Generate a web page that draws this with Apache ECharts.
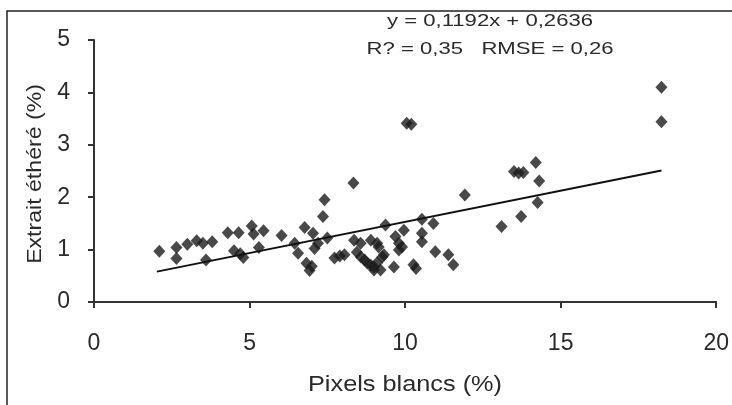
<!DOCTYPE html>
<html>
<head>
<meta charset="utf-8">
<script src="https://cdn.jsdelivr.net/npm/echarts@6/dist/echarts.min.js"></script>
<style>
  html, body { margin: 0; padding: 0; background: #fff; }
  #chart { width: 732px; height: 405px; }
</style>
</head>
<body>
<div id="chart"></div>
<script>
// points (Pixels blancs %, Extrait éthéré %)
var pixelsBlancs = [
  2.1, 2.65, 2.65, 3.0, 3.3, 3.5, 3.8, 3.6, 4.3, 4.65, 4.5, 4.8, 4.7,
  5.07, 5.13, 5.45, 5.3, 6.03, 6.45, 6.56, 6.77, 6.83, 6.93, 7.0, 7.04,
  7.09, 7.2, 7.36, 7.41, 7.5, 7.73, 7.9, 8.05, 8.34, 8.36, 8.45, 8.57,
  8.58, 8.7, 8.79, 8.9, 8.9, 9.0, 9.0, 9.1, 9.1, 9.15, 9.21, 9.27, 9.32,
  9.37, 9.64, 9.69, 9.8, 9.8, 9.9, 9.96, 10.05, 10.2, 10.27, 10.35,
  10.54, 10.54, 10.54, 10.91, 10.97, 11.39, 11.55, 11.92, 13.1, 13.5,
  13.65, 13.73, 13.8, 14.2, 14.26, 14.31, 18.24, 18.24
];
var extraitEthere = [
  0.97, 1.04, 0.83, 1.1, 1.17, 1.12, 1.15, 0.8, 1.32, 1.32, 0.98, 0.85, 0.92,
  1.45, 1.3, 1.36, 1.04, 1.27, 1.12, 0.93, 1.42, 0.74, 0.6, 0.68, 1.31,
  1.02, 1.12, 1.63, 1.95, 1.22, 0.84, 0.88, 0.9, 2.27, 1.18, 0.95, 1.12,
  0.86, 0.8, 0.74, 1.18, 0.7, 0.61, 0.67, 1.12, 0.75, 1.05, 0.61, 0.86, 0.9,
  1.47, 0.67, 1.25, 1.12, 0.99, 1.05, 1.37, 3.41, 3.39, 0.71, 0.64,
  1.15, 1.31, 1.58, 1.5, 0.96, 0.9, 0.71, 2.04, 1.44, 2.49,
  2.46, 1.63, 2.47, 2.66, 1.9, 2.31, 4.1, 3.44
];
// drawn regression line ends
var trendX = [2.02, 18.24];
var trendY = [0.58, 2.51];
var xTicks = [0, 5, 10, 15, 20];
var yTicks = [0, 1, 2, 3, 4, 5];

var points = pixelsBlancs.map(function (x, i) { return [x, extraitEthere[i]]; });
var trend = trendX.map(function (x, i) { return [x, trendY[i]]; });

var chart = echarts.init(document.getElementById("chart"));
var axisColor = "#333";
var textColor = "#2a2a2a";
var fontName = "Liberation Sans, Arial, sans-serif";
var option = {
  animation: false,
  textStyle: { fontFamily: fontName },
  grid: { left: 94, right: 7, top: 40, bottom: 103 },
  graphic: [
    {
      type: "rect",
      shape: { x: 7, y: 11, width: 760, height: 420 },
      style: { fill: "none", stroke: "#222", lineWidth: 1.5 },
      z: 0
    },
    // equation text
    {
      type: "text",
      x: 490, y: 21, scaleX: 1.3,
      style: {
        text: "y = 0,1192x + 0,2636",
        fill: textColor, font: "17px " + fontName,
        align: "center", verticalAlign: "middle"
      }
    },
    {
      type: "text",
      x: 490, y: 49, scaleX: 1.3,
      style: {
        text: "R? = 0,35   RMSE = 0,26",
        fill: textColor, font: "17px " + fontName,
        align: "center", verticalAlign: "middle"
      }
    },
    // axis titles
    {
      type: "text",
      x: 405, y: 385, scaleX: 1.15,
      style: {
        text: "Pixels blancs (%)",
        fill: textColor, font: "22px " + fontName,
        align: "center", verticalAlign: "middle"
      }
    },
    {
      type: "text",
      x: 35, y: 174, rotation: Math.PI / 2, scaleX: 1.1,
      style: {
        text: "Extrait éthéré (%)",
        fill: textColor, font: "21px " + fontName,
        align: "center", verticalAlign: "middle"
      }
    }
  ],
  xAxis: {
    type: "value",
    min: xTicks[0],
    max: xTicks[xTicks.length - 1],
    interval: 5,
    axisLine: { lineStyle: { color: axisColor, width: 2 } },
    axisTick: { show: true, length: 6, lineStyle: { color: axisColor, width: 2 } },
    axisLabel: { color: textColor, fontSize: 23, margin: 30 },
    splitLine: { show: false }
  },
  yAxis: {
    type: "value",
    min: yTicks[0],
    max: yTicks[yTicks.length - 1],
    interval: 1,
    axisLine: { show: true, lineStyle: { color: axisColor, width: 2 } },
    axisTick: { show: true, length: 6, lineStyle: { color: axisColor, width: 2 } },
    axisLabel: { color: textColor, fontSize: 23, margin: 24, padding: [8, 0, 0, 0] },
    splitLine: { show: false }
  },
  series: [
    {
      type: "scatter",
      symbol: "diamond",
      symbolSize: [12, 13],
      itemStyle: { color: "#1c1c1c" },
      data: points
    },
    {
      type: "line",
      symbol: "none",
      lineStyle: { color: "#111", width: 2 },
      data: trend
    }
  ]
};
chart.setOption(option);
</script>
</body>
</html>
